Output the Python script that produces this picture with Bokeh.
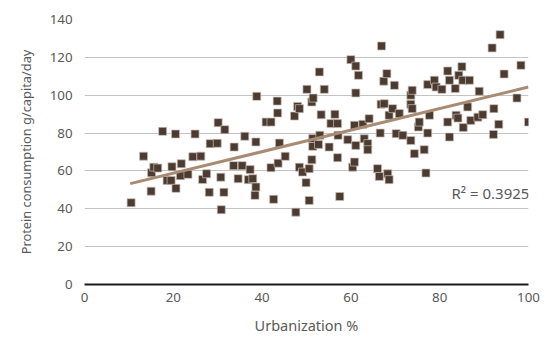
from bokeh.plotting import figure
from bokeh.models import ColumnDataSource, FixedTicker
from bokeh.core.properties import value
from bokeh.embed import file_html
from bokeh.resources import INLINE

# Urbanization (%) and protein consumption (g/capita/day)
urbanization = [
    10.5, 13.3, 15.0, 15.1, 15.6, 16.5, 17.6, 18.6, 19.5, 19.7,
    20.5, 20.6, 21.6, 21.8, 23.3, 24.4, 24.9, 26.2, 26.6, 27.5,
    28.1, 28.3, 29.9, 30.1, 30.7, 30.8, 31.4, 31.6, 33.6, 33.7,
    34.6, 35.5, 36.1, 36.9, 37.3, 37.9, 38.6, 38.4, 38.6, 38.8,
    40.9, 42.0, 42.0, 42.6, 43.4, 43.5, 43.6, 43.9, 45.2, 47.3,
    47.6, 48.0, 48.4, 48.4, 49.1, 49.9, 50.1, 50.6, 50.6, 51.2,
    51.2, 51.5, 51.4, 51.4, 52.7, 52.9, 53.0, 53.3, 54.0, 55.1,
    55.5, 56.4, 57.0, 57.0, 57.1, 57.5, 59.3, 60.0, 60.4, 60.8,
    60.8, 61.1, 61.1, 61.1, 62.7, 61.7, 63.0, 63.8, 63.8, 64.1,
    66.0, 66.4, 66.6, 66.8, 66.9, 67.4, 67.5, 68.1, 68.3, 68.6,
    68.6, 69.4, 69.8, 70.2, 70.9, 71.7, 73.5, 73.5, 73.5, 73.8,
    73.8, 74.3, 75.2, 75.4, 76.5, 76.9, 77.3, 77.3, 77.7, 78.8,
    79.2, 80.5, 81.8, 81.8, 82.2, 82.2, 83.5, 83.7, 84.1, 84.3,
    85.0, 85.2, 85.3, 86.3, 86.7, 87.0, 88.6, 88.9, 89.7, 91.8,
    92.1, 92.2, 93.3, 93.6, 94.5, 97.4, 98.3, 100.0,
]
protein = [
    43.2, 67.8, 49.3, 59.0, 62.0, 61.5, 80.9, 55.0, 55.0, 62.2,
    79.5, 50.8, 57.5, 63.8, 58.2, 67.5, 79.5, 67.8, 55.5, 58.5,
    48.7, 74.4, 74.6, 85.5, 56.7, 39.5, 48.7, 81.8, 62.8, 72.6,
    55.9, 62.8, 78.3, 55.4, 60.7, 55.9, 51.5, 47.1, 75.3, 99.4,
    85.8, 85.8, 61.7, 45.0, 96.9, 90.6, 64.1, 74.7, 67.7, 89.0,
    38.2, 94.1, 92.9, 62.0, 59.4, 53.8, 103.1, 61.2, 44.4, 65.9,
    96.4, 98.5, 73.0, 77.1, 74.0, 112.3, 78.8, 89.7, 103.1, 72.6,
    85.0, 89.9, 85.0, 67.0, 78.8, 46.5, 76.5, 118.8, 62.0, 64.7,
    84.1, 115.4, 73.5, 101.2, 84.6, 110.5, 77.0, 74.4, 71.2, 87.6,
    61.2, 57.1, 80.0, 95.2, 126.0, 107.4, 95.5, 111.4, 58.5, 55.4,
    89.4, 92.9, 105.2, 79.7, 90.3, 78.8, 76.1, 95.2, 100.0, 102.6,
    92.9, 69.1, 83.2, 85.8, 71.2, 58.9, 80.0, 105.6, 89.4, 107.9,
    104.3, 103.1, 112.8, 85.8, 107.9, 77.9, 103.5, 89.4, 87.9, 110.5,
    115.1, 107.9, 82.9, 93.8, 107.9, 86.7, 88.4, 102.1, 89.7, 125.0,
    79.3, 92.9, 84.6, 132.0, 111.2, 98.5, 115.8, 85.8,
]
# Linear trendline (endpoints)
trend_x = [10.3, 100.0]
trend_y = [53.3, 104.3]

x_ticks = [0, 20, 40, 60, 80, 100]
y_ticks = [0, 20, 40, 60, 80, 100, 120, 140]
r2_label = ["R\u00b2 = 0.3925"]
r2_pos_x = [100.2]
r2_pos_y = [48.4]

FONT = "Noto Sans"
GRAY = "#595959"

p = figure(width=545, height=340, x_range=(0, 100), y_range=(0, 140),
           output_backend="svg", toolbar_location=None,
           min_border_left=84, min_border_right=17, min_border_top=19, min_border_bottom=56)
p.outline_line_color = None
p.background_fill_color = "white"
p.border_fill_color = "white"

p.xgrid.grid_line_color = None
p.ygrid.grid_line_color = "#c4c4c4"
p.ygrid.grid_line_width = 1
p.ygrid.ticker = FixedTicker(ticks=y_ticks)

p.xaxis.ticker = FixedTicker(ticks=x_ticks)
p.yaxis.ticker = FixedTicker(ticks=y_ticks)

for ax in (p.xaxis[0], p.yaxis[0]):
    ax.major_tick_line_color = None
    ax.minor_tick_line_color = None
    ax.major_tick_out = 0
    ax.major_tick_in = 0
    ax.major_label_text_font = FONT
    ax.major_label_text_font_size = "13.3px"
    ax.major_label_text_color = GRAY
    ax.axis_label_text_font = FONT
    ax.axis_label_text_font_style = "normal"
    ax.axis_label_text_color = GRAY

p.yaxis.axis_line_color = None
p.yaxis.major_label_standoff = 12
p.yaxis.axis_label = "Protein consumption g/capita/day"
p.yaxis.axis_label_text_font_size = "12.8px"
p.yaxis.axis_label_standoff = 12

p.xaxis.axis_line_color = "#1a1a1a"
p.xaxis.axis_line_width = 2
p.xaxis.major_label_standoff = 8
p.xaxis.axis_label = "Urbanization %"
p.xaxis.axis_label_text_font_size = "14.5px"
p.xaxis.axis_label_standoff = 10

src = ColumnDataSource(dict(x=urbanization, y=protein))
p.scatter("x", "y", source=src, marker="square", size=8,
          fill_color="#4b3b31", line_color="#c9bfb6", line_width=0.7)

p.line(trend_x, trend_y, line_color="#a88b73", line_width=3)

p.text(x=r2_pos_x, y=r2_pos_y, text=r2_label, text_align="right", text_baseline="middle",
       text_font=value(FONT), text_font_size="15px", text_color=GRAY)

open("out.html", "w").write(file_html(p, INLINE))
